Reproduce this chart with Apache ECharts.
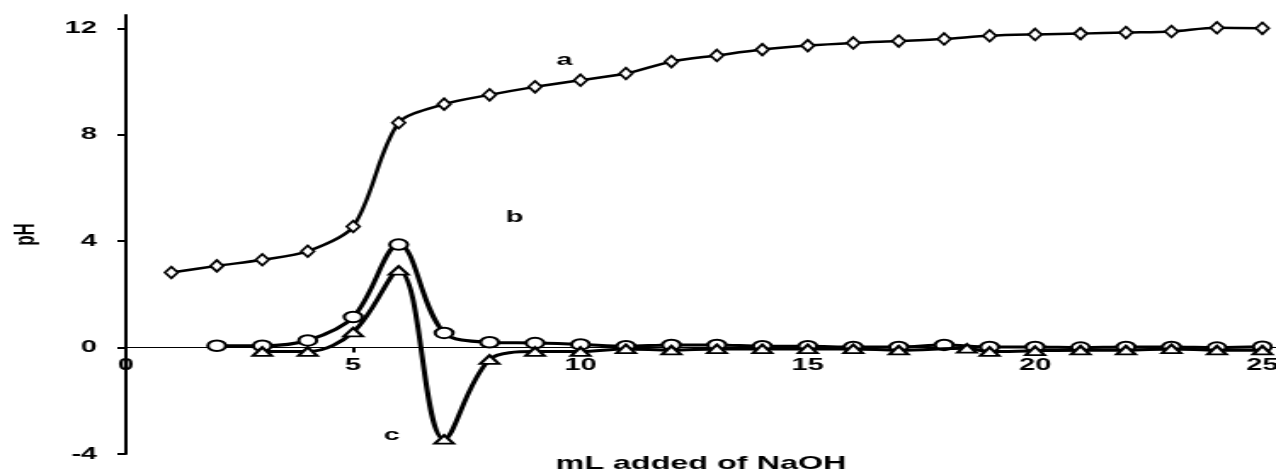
<!DOCTYPE html>
<html>
<head>
<meta charset="utf-8">
<script src="https://cdn.jsdelivr.net/npm/echarts@6/dist/echarts.min.js"></script>
<style>
  html, body { margin: 0; padding: 0; background: #fff; overflow: hidden; }
  /* the original figure is stretched sideways, so draw narrow and stretch */
  #chart { width: 750px; height: 474px; transform: scaleX(1.70133); transform-origin: 0 0; }
</style>
</head>
<body>
<div id="chart"></div>
<script>
// mL of NaOH added
const volA = [1, 2, 3, 4, 5, 6, 7, 8, 9, 10, 11, 12, 13, 14, 15, 16, 17, 18, 19, 20, 21, 22, 23, 24, 25];
const phA = [2.82, 3.07, 3.3, 3.62, 4.55, 8.45, 9.15, 9.5, 9.8, 10.05, 10.3, 10.75, 10.98, 11.2, 11.35, 11.45, 11.52, 11.6, 11.72, 11.77, 11.8, 11.84, 11.88, 12.02, 12.0];

const volB = [2, 3, 4, 5, 6, 7, 8, 9, 10, 11, 12, 13, 14, 15, 16, 17, 18, 19, 20, 21, 22, 23, 24, 25];
const phB = [0.07, 0.07, 0.27, 1.15, 3.87, 0.55, 0.2, 0.17, 0.12, 0.05, 0.1, 0.1, 0.05, 0.05, 0.02, 0.02, 0.1, 0.02, 0.02, 0.0, 0.02, 0.02, 0.0, 0.03];

const volC = [3, 4, 5, 6, 7, 8, 9, 10, 11, 12, 13, 14, 15, 16, 17, 18.5, 19, 20, 21, 22, 23, 24, 25];
const phC = [-0.15, -0.15, 0.58, 2.9, -3.45, -0.45, -0.15, -0.15, -0.05, -0.1, -0.05, -0.05, -0.05, -0.05, -0.1, -0.03, -0.15, -0.12, -0.1, -0.1, -0.05, -0.1, -0.1];

const yTicks = [-4, 0, 4, 8, 12];
const curveLabels = [
  { name: 'a', coord: [9.65, 10.8] },
  { name: 'b', coord: [8.55, 4.9] },
  { name: 'c', coord: [5.85, -3.3] }
];

const font = '"Liberation Sans", Arial, sans-serif';
const pairs = (xs, ys) => xs.map((x, i) => [x, ys[i]]);

const chart = echarts.init(document.getElementById('chart'));

const markStyle = {
  symbol: 'circle',
  symbolSize: 1,
  itemStyle: { color: 'rgba(0,0,0,0)' },
  label: {
    show: true,
    formatter: '{b}',
    color: '#000',
    fontFamily: font,
    fontWeight: 'bold',
    fontSize: 17,
    position: 'inside'
  }
};

chart.setOption({
  animation: false,
  backgroundColor: '#fff',
  grid: { left: 74, right: 0, top: 15, bottom: 20, outerBoundsMode: 'none' },
  xAxis: {
    type: 'value',
    min: 0,
    max: 25.3,
    interval: 5,
    name: 'mL added of NaOH',
    nameLocation: 'middle',
    nameGap: 107,
    nameTextStyle: { fontFamily: font, fontWeight: 'bold', fontSize: 19, color: '#000' },
    // axis sits on pH 0: 4 of 16.5 units above the grid bottom
    offset: -439 * 4 / 16.5,
    axisLine: { onZero: false, lineStyle: { color: '#000', width: 1 } },
    axisTick: { show: true, length: 5, lineStyle: { color: '#000', width: 2 } },
    axisLabel: {
      showMaxLabel: false,
      margin: 9,
      fontFamily: font, fontWeight: 'bold', fontSize: 17, color: '#000'
    },
    splitLine: { show: false }
  },
  yAxis: {
    type: 'value',
    min: -4,
    max: 12.5,
    interval: 4,
    name: 'pH',
    nameLocation: 'middle',
    nameGap: 50,
    nameTextStyle: { fontFamily: font, fontWeight: 'bold', fontSize: 17, color: '#000' },
    axisLine: { show: true, onZero: false, lineStyle: { color: '#000', width: 2 } },
    axisTick: { show: true, length: 5, customValues: yTicks, lineStyle: { color: '#000', width: 2 } },
    axisLabel: {
      customValues: yTicks,
      margin: 17,
      fontFamily: font, fontWeight: 'bold', fontSize: 17, color: '#000'
    },
    splitLine: { show: false }
  },
  series: [
    {
      name: 'a',
      type: 'line',
      data: pairs(volA, phA),
      smooth: 0.3,
      symbol: 'diamond',
      symbolSize: [7.5, 11.5],
      lineStyle: { color: '#000', width: 2.5 },
      itemStyle: { color: '#fff', borderColor: '#000', borderWidth: 1.8 },
      markPoint: Object.assign({ data: [curveLabels[0]] }, markStyle),
      z: 3
    },
    {
      name: 'b',
      type: 'line',
      data: pairs(volB, phB),
      smooth: 0.35,
      symbol: 'circle',
      symbolSize: [10.5, 10.5],
      lineStyle: { color: '#000', width: 3 },
      itemStyle: { color: '#fff', borderColor: '#000', borderWidth: 2 },
      markPoint: Object.assign({ data: [curveLabels[1]] }, markStyle),
      z: 4
    },
    {
      name: 'c',
      type: 'line',
      data: pairs(volC, phC),
      smooth: 0.35,
      symbol: 'triangle',
      symbolSize: [11, 8.5],
      lineStyle: { color: '#000', width: 3 },
      itemStyle: { color: '#fff', borderColor: '#000', borderWidth: 2 },
      markPoint: Object.assign({ data: [curveLabels[2]] }, markStyle),
      z: 5
    }
  ]
});
</script>
</body>
</html>
